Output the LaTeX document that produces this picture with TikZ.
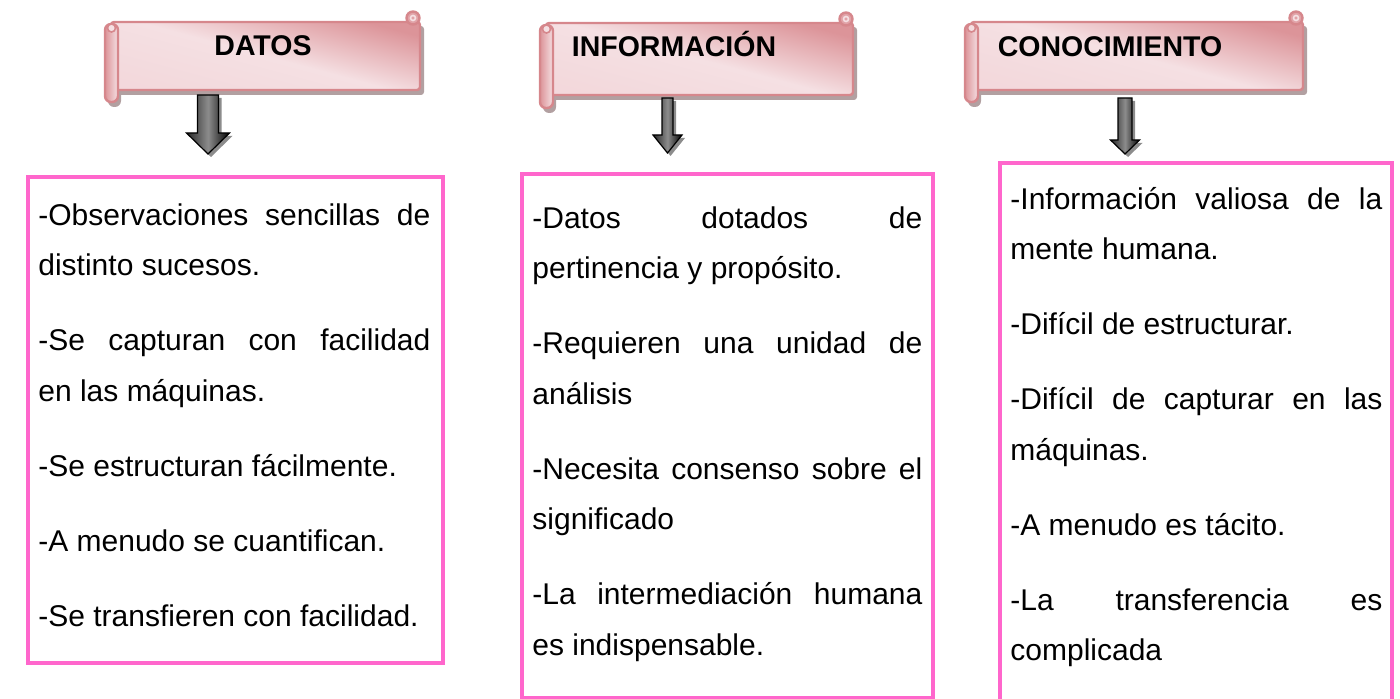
\documentclass[tikz,border=0pt]{standalone}
\usepackage{fontspec}
\setmainfont{Liberation Sans}

\definecolor{boxpink}{RGB}{255,102,204}
\definecolor{banlight}{RGB}{245,224,227}
\definecolor{bandark}{RGB}{220,148,153}
\definecolor{banedge}{RGB}{214,135,140}
\definecolor{banshade}{RGB}{178,160,161}

\newcommand{\gapline}{\par\vspace{12.25pt}}
\newcommand{\firstline}{\hyphenpenalty=10000 \exhyphenpenalty=10000 \tolerance=10000 \noindent\vrule height 12pt depth 0pt width 0pt\relax}

% left, top, right, bottom, bottom of the roll
\newcommand{\scroll}[5]{%
  \fill[banshade, rounded corners=1.5pt] (#1+3,#2+4) rectangle (#3+4,#4+5);
  \fill[banshade, rounded corners=3pt] (#1+3,#2+4) rectangle (#1+16,#5+5);
  \shade[draw=banedge, line width=1.2pt, rounded corners=1.5pt, top color=bandark, bottom color=banlight!90!bandark, middle color=banlight, shading angle=-15] (#1+6,#2) rectangle (#3,#4);
  \shade[draw=banedge, line width=1.2pt, rounded corners=3pt, left color=bandark, right color=banlight] (#1,#2+2) rectangle (#1+13,#5);
  \draw[banedge, line width=0.8pt, fill=banlight] (#1+6.5,#2+6) circle[radius=4];
  \draw[banedge, line width=1.2pt, fill=bandark!80!banlight] (#3-7,#2-4) circle[radius=6.5];
  \draw[banlight, line width=0.8pt] (#3-7,#2-4) circle[radius=2.5];
}

% centre x, top, start of head, tip, half shaft, half head
\newcommand{\blockarrow}[6]{%
  \fill[black!45] (#1-#5+3,#2+3) -- (#1+#5+3,#2+3) -- (#1+#5+3,#3+3) -- (#1+#6+3,#3+3) -- (#1+3,#4+3) -- (#1-#6+3,#3+3) -- (#1-#5+3,#3+3) -- cycle;
  \shade[draw=black, line width=0.6pt, left color=black!85, right color=black, middle color=black!45] (#1-#5,#2) -- (#1+#5,#2) -- (#1+#5,#3) -- (#1+#6,#3) -- (#1,#4) -- (#1-#6,#3) -- (#1-#5,#3) -- cycle;
}

\begin{document}
\begin{tikzpicture}[x=0.5pt, y=-0.5pt,
    bodybox/.style={draw=boxpink, line width=2pt},
    bodytext/.style={anchor=north west, inner sep=0pt, align=justify,
      font=\fontsize{15}{25.25}\selectfont},
    headtext/.style={anchor=base, inner sep=0pt, font=\fontsize{14.25}{17}\selectfont\bfseries}]
  \clip (0,0) rectangle (1400,699);

  % banners
  \scroll{105}{22}{420}{90}{102}
  \scroll{540}{23}{853}{95}{108}
  \scroll{965}{22}{1303}{90}{102}
  \node[headtext] (datos) at (263,56) {DATOS};
  \node[headtext] (info) at (674,57) {INFORMACIÓN};
  \node[headtext] (conoc) at (1110,57) {CONOCIMIENTO};

  % arrows
  \blockarrow{208}{95}{133}{154}{10.5}{21.5}
  \blockarrow{667.5}{98}{135}{153}{5.5}{14.5}
  \blockarrow{1125}{98}{140}{154}{7}{14.5}

  % boxes
  \draw[bodybox] (28,177) rectangle (443,663);
  \draw[bodybox] (522,174) rectangle (933,698);
  \draw[bodybox] (1000,163) rectangle (1392,720);

  \node[bodytext, text width=196pt] (datoslist) at (38,201) {\firstline
    -Observaciones sencillas de\linebreak distinto sucesos.\gapline
    -Se capturan con facilidad\linebreak en las máquinas.\gapline
    -Se estructuran fácilmente.\gapline
    -A menudo se cuantifican.\gapline
    -Se transfieren con facilidad.};
  \node[bodytext, text width=195pt] (infolist) at (532,204) {\firstline
    -Datos dotados de\linebreak pertinencia y propósito.\gapline
    -Requieren una unidad de\linebreak análisis\gapline
    -Necesita consenso sobre el\linebreak significado\gapline
    -La intermediación humana\linebreak es indispensable.};
  \node[bodytext, text width=186pt] (conoclist) at (1010,185) {\firstline
    -Información valiosa de la\linebreak mente humana.\gapline
    -Difícil de estructurar.\gapline
    -Difícil de capturar en las\linebreak máquinas.\gapline
    -A menudo es tácito.\gapline
    -La transferencia es\linebreak complicada};
\end{tikzpicture}
\end{document}
